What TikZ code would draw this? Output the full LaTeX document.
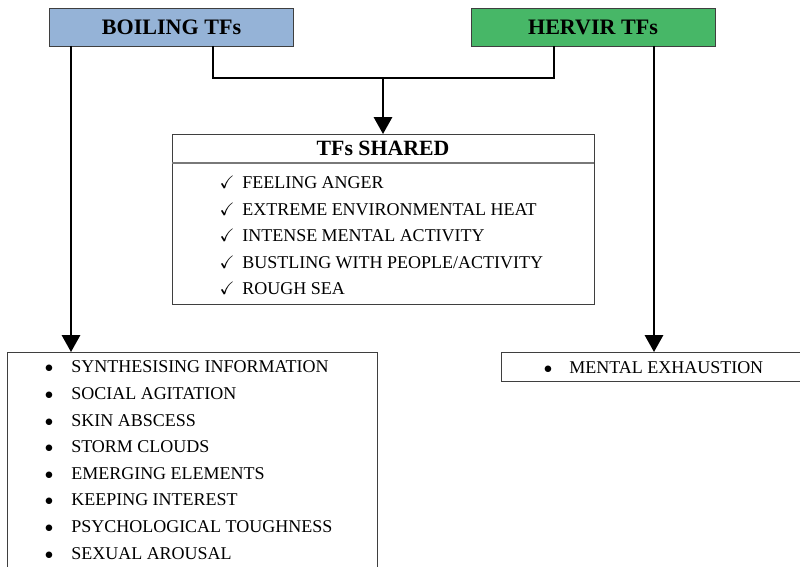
\documentclass[tikz,border=0pt]{standalone}
\usepackage{amssymb}
\usepackage{fontspec}
\setmainfont{Liberation Serif}
\usetikzlibrary{arrows.meta,positioning,calc}
\definecolor{tfblue}{HTML}{95B3D7}
\definecolor{tfgreen}{HTML}{47B767}
\definecolor{tfedge}{HTML}{3F3F3F}
\tikzset{
  headbox/.style  = {rectangle, draw=tfedge, line width=0.7pt, inner sep=0pt, outer sep=0pt,
                      minimum width=6.1cm, minimum height=0.95cm,
                      font=\fontsize{15.7}{18}\selectfont\bfseries},
  sharedhead/.style = {rectangle, draw=tfedge, line width=0.7pt, inner sep=0pt, outer sep=0pt,
                      minimum width=10.55cm, minimum height=0.725cm,
                      font=\fontsize{15.5}{18}\selectfont\bfseries},
  listbox/.style  = {rectangle, draw=tfedge, line width=0.7pt, fill=white, anchor=north west,
                      inner sep=0pt, outer sep=0pt},
  itemtxt/.style  = {anchor=base west, inner sep=0pt, font=\fontsize{12.8}{15}\selectfont},
  itemsym/.style  = {anchor=base, inner sep=0pt, font=\fontsize{12.8}{15}\selectfont},
  link/.style     = {line width=1.4pt, black},
  flow/.style     = {-{Triangle[width=13pt,length=12pt]}, line width=1.4pt, black},
}

\begin{document}
\begin{tikzpicture}
\clip (0,0) rectangle (20,-14.175);
% top boxes
\node[headbox, fill=tfblue]  (boil) at (4.2875,-0.675) {BOILING TFs};
\node[headbox, fill=tfgreen] (herv) at (14.825,-0.675) {HERVIR TFs};
% shared box
\node[sharedhead] (shtop) at (9.575,-3.7125) {TFs SHARED};
\node[listbox, minimum width=10.55cm, minimum height=3.525cm] (shbody) at (shtop.south west) {};
\draw[tfedge!70, line width=1.2pt] (shtop.south west) -- (shtop.south east);
% bottom boxes
\node[listbox, minimum width=9.25cm, minimum height=6cm] (lbox) at (0.175,-8.8) {};
\node[listbox, minimum width=8cm, minimum height=0.725cm] (rbox) at (12.525,-8.8) {};
% connectors
\coordinate (jn) at (9.575,-1.95);
\coordinate (bl) at (5.325,-1.95);
\coordinate (hr) at (13.85,-1.95);
\coordinate (lt) at (1.775,0);
\coordinate (rt) at (16.35,0);
\draw[link] (boil.south -| bl) |- (hr) -- (herv.south -| hr);
\draw[flow] (jn) -- (shtop.north);
\draw[flow] (boil.south -| lt) -- (lbox.north -| lt);
\draw[flow] (herv.south -| rt) -- (rbox.north -| rt);
% shared items
\foreach \txt [count=\i from 0] in {FEELING ANGER, EXTREME ENVIRONMENTAL HEAT,
    INTENSE MENTAL ACTIVITY, BUSTLING WITH PEOPLE/ACTIVITY, ROUGH SEA} {
  \pgfmathsetmacro{\yy}{-(189+26.5*\i)*0.025}
  \node[itemsym] (chk\i) at (5.675,\yy) {$\checkmark$};
  \node[itemtxt] (sh\i) at (6.05,\yy) {\txt};
}
% boiling items
\foreach \txt [count=\i from 0] in {SYNTHESISING INFORMATION, SOCIAL AGITATION, SKIN ABSCESS,
    STORM CLOUDS, EMERGING ELEMENTS, KEEPING INTEREST, PSYCHOLOGICAL TOUGHNESS, SEXUAL AROUSAL} {
  \pgfmathsetmacro{\yy}{-(373+26.6*\i)*0.025}
  \node[itemsym] (bb\i) at (1.225,\yy) {$\bullet$};
  \node[itemtxt] (bt\i) at (1.775,\yy) {\txt};
}
% hervir item
\node[itemsym] (rb0) at (13.7,-9.325) {$\bullet$};
\node[itemtxt] (rt0) at (14.225,-9.325) {MENTAL EXHAUSTION};
\end{tikzpicture}
\end{document}
